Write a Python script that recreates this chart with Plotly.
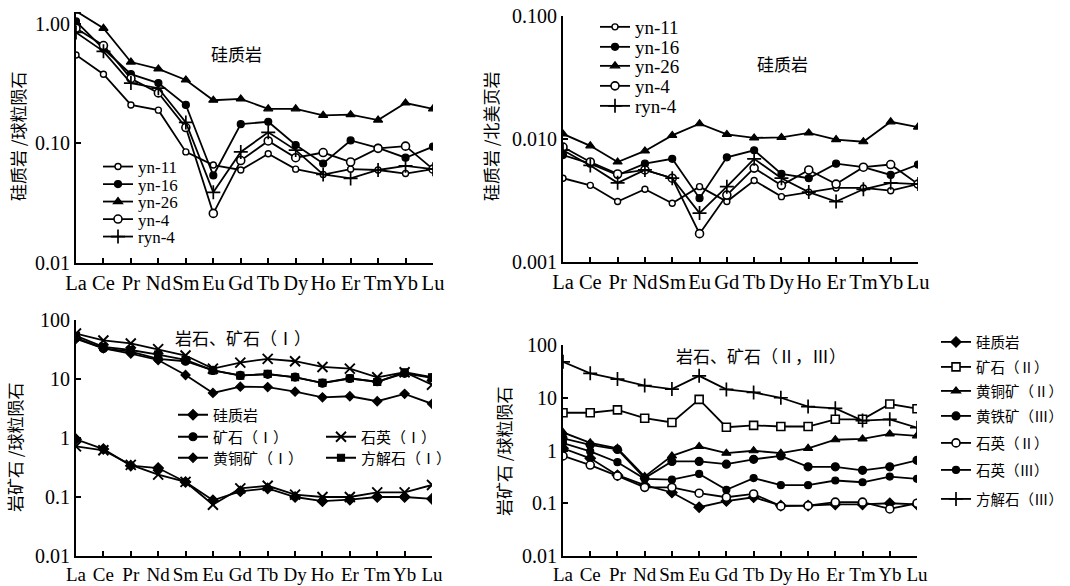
import plotly.graph_objects as go

W, H = 1070, 586

REE = ["La", "Ce", "Pr", "Nd", "Sm", "Eu", "Gd", "Tb", "Dy", "Ho", "Er", "Tm", "Yb", "Lu"]

# ---- Panel 1: siliceous rock / chondrite ----
p1_yn11 = [0.55, 0.38, 0.21, 0.19, 0.085, 0.066, 0.060, 0.082, 0.061, 0.055, 0.061, 0.060, 0.056, 0.061]
p1_yn16 = [1.05, 0.62, 0.38, 0.32, 0.21, 0.054, 0.145, 0.152, 0.097, 0.068, 0.106, 0.092, 0.076, 0.094]
p1_yn26 = [1.28, 0.92, 0.48, 0.42, 0.34, 0.23, 0.236, 0.195, 0.195, 0.172, 0.174, 0.157, 0.218, 0.195]
p1_yn4 = [0.92, 0.66, 0.35, 0.265, 0.136, 0.026, 0.072, 0.105, 0.076, 0.084, 0.070, 0.091, 0.095, 0.061]
p1_ryn4 = [0.85, 0.59, 0.32, 0.29, 0.15, 0.039, 0.085, 0.124, 0.088, 0.055, 0.051, 0.060, 0.065, 0.061]

# ---- Panel 2: siliceous rock / NASC ----
p2_yn11 = [0.0048, 0.0042, 0.0031, 0.0039, 0.0030, 0.0041, 0.0031, 0.0046, 0.0034, 0.0037, 0.0040, 0.0040, 0.0038, 0.0043]
p2_yn16 = [0.0074, 0.0063, 0.0051, 0.0063, 0.0069, 0.0033, 0.0071, 0.0081, 0.0052, 0.0048, 0.0063, 0.0059, 0.0051, 0.0062]
p2_yn26 = [0.0110, 0.0088, 0.0065, 0.0080, 0.0107, 0.0133, 0.0109, 0.0102, 0.0103, 0.0112, 0.0099, 0.0095, 0.0138, 0.0125]
p2_yn4 = [0.0086, 0.0065, 0.0052, 0.0056, 0.0048, 0.0017, 0.0035, 0.0058, 0.0042, 0.0056, 0.0043, 0.0059, 0.0062, 0.0043]
p2_ryn4 = [0.0081, 0.0061, 0.0044, 0.0056, 0.0048, 0.0025, 0.0041, 0.0069, 0.0048, 0.0037, 0.0031, 0.0039, 0.0044, 0.0043]

# ---- Panel 3: rock & ore (I) / chondrite ----
p3_silic = [0.95, 0.65, 0.34, 0.31, 0.18, 0.088, 0.125, 0.14, 0.10, 0.085, 0.09, 0.10, 0.10, 0.093]
p3_silic_b = [0.72, 0.62, 0.35, 0.24, 0.18, 0.074, 0.14, 0.155, 0.11, 0.10, 0.10, 0.12, 0.12, 0.16]
p3_ore = [50, 33, 29, 22, 20, 14, 11.5, 12, 10.8, 8.5, 10.2, 9, 12.5, 10.5]
p3_quartz = [59, 45, 40, 32, 25, 15, 19, 22, 20, 16, 15, 10.7, 13, 8]
p3_chalco = [48, 33, 27, 21, 11.7, 5.8, 7.4, 7.3, 6.1, 4.9, 5.1, 4.2, 5.6, 3.8]
p3_calcite = [54, 35, 31, 26, 21, 14, 11.4, 12.2, 10.7, 8.6, 10.3, 8.9, 13, 10.7]

# ---- Panel 4: rock & ore (II, III) / chondrite ----
p4_silic = [1.1, 0.71, 0.34, 0.22, 0.16, 0.084, 0.11, 0.13, 0.09, 0.09, 0.095, 0.095, 0.10, 0.095]
p4_ore2 = [5.2, 5.2, 5.9, 4.1, 3.4, 9.3, 2.76, 3.0, 2.85, 2.85, 3.9, 3.9, 7.6, 6.2]
p4_chalco2 = [2.2, 1.4, 1.1, 0.32, 0.79, 1.19, 0.89, 0.99, 0.89, 1.1, 1.6, 1.66, 2.06, 1.9]
p4_pyrite3 = [1.7, 1.28, 1.05, 0.30, 0.62, 0.62, 0.55, 0.68, 0.79, 0.49, 0.49, 0.42, 0.49, 0.65]
p4_quartz2 = [0.79, 0.53, 0.33, 0.20, 0.20, 0.155, 0.13, 0.15, 0.088, 0.09, 0.105, 0.105, 0.078, 0.10]
p4_quartz3 = [1.38, 0.96, 0.60, 0.29, 0.28, 0.36, 0.18, 0.30, 0.22, 0.22, 0.27, 0.25, 0.32, 0.29]
p4_calcite3 = [48, 29, 22.6, 17, 14.6, 26, 14.4, 12.6, 10, 6.8, 6.3, 3.7, 3.9, 2.7]

SERIF = "Liberation Serif, Times New Roman, serif"
CJK = "Noto Sans CJK SC, sans-serif"
BLACK = "#000000"


def mk(symbol, size, fill=BLACK, lw=1.2):
    return dict(symbol=symbol, size=size, color=fill, line=dict(color=BLACK, width=lw))


M_SMALL_OPEN = mk("circle", 6, "white", 1.4)
M_FILLED_CIRC = mk("circle", 7)
M_TRI = mk("triangle-up", 8)
M_BIG_OPEN = mk("circle", 8, "white", 1.6)
M_PLUS = mk("cross-thin", 10, BLACK, 1.7)
M_X = mk("x-thin", 10, BLACK, 1.9)
M_DIAM = mk("diamond", 8)
M_SQ = mk("square", 7)
M_SQ_OPEN = mk("square", 8, "white", 1.6)

fig = go.Figure()
legend_count = [0]
legend_layouts = {}


def legend_id():
    legend_count[0] += 1
    return "legend" if legend_count[0] == 1 else f"legend{legend_count[0]}"


def add(y, name, marker, xa, ya, leg_xy=None, font=None, dash="solid"):
    if leg_xy is not None:
        lid = legend_id()
        legend_layouts[lid] = dict(
            x=leg_xy[0] / W, y=1 - leg_xy[1] / H, xanchor="left", yanchor="middle",
            bgcolor="rgba(0,0,0,0)", borderwidth=0, font=font, itemwidth=30,
            tracegroupgap=0,
        )
        show = True
    else:
        lid = "legend"
        show = False
    fig.add_trace(go.Scatter(
        x=REE, y=y, name=name, mode="lines+markers",
        line=dict(color=BLACK, width=1.8, dash=dash), marker=marker,
        xaxis=xa, yaxis=ya, legend=lid, showlegend=show,
    ))


F_LEG_P1 = dict(family=SERIF, size=17, color=BLACK)
F_LEG_P2 = dict(family=SERIF, size=19, color=BLACK)
F_LEG_CJK = dict(family=CJK, size=15, color=BLACK)
F_LEG_CJK4 = dict(family=CJK, size=14.5, color=BLACK)

# Panel 1
p1_rows = [167, 184.5, 202, 219.5, 237]
add(p1_yn11, "yn-11", M_SMALL_OPEN, "x", "y", (98, p1_rows[0]), F_LEG_P1)
add(p1_yn16, "yn-16", M_FILLED_CIRC, "x", "y", (98, p1_rows[1]), F_LEG_P1)
add(p1_yn26, "yn-26", M_TRI, "x", "y", (98, p1_rows[2]), F_LEG_P1)
add(p1_yn4, "yn-4", M_BIG_OPEN, "x", "y", (98, p1_rows[3]), F_LEG_P1)
add(p1_ryn4, "ryn-4", M_PLUS, "x", "y", (98, p1_rows[4]), F_LEG_P1)

# Panel 2
p2_rows = [27, 47, 66, 86, 106]
add(p2_yn11, "yn-11", M_SMALL_OPEN, "x2", "y2", (595, p2_rows[0]), F_LEG_P2)
add(p2_yn16, "yn-16", M_FILLED_CIRC, "x2", "y2", (595, p2_rows[1]), F_LEG_P2)
add(p2_yn26, "yn-26", M_TRI, "x2", "y2", (595, p2_rows[2]), F_LEG_P2)
add(p2_yn4, "yn-4", M_BIG_OPEN, "x2", "y2", (595, p2_rows[3]), F_LEG_P2)
add(p2_ryn4, "ryn-4", M_PLUS, "x2", "y2", (595, p2_rows[4]), F_LEG_P2)

# Panel 3
add(p3_silic, "硅质岩", M_DIAM, "x3", "y3", (173, 415), F_LEG_CJK)
add(p3_ore, "矿石（Ⅰ）", mk("circle", 8), "x3", "y3", (173, 437), F_LEG_CJK)
add(p3_quartz, "石英（Ⅰ）", M_X, "x3", "y3", (321, 437), F_LEG_CJK)
add(p3_chalco, "黄铜矿（Ⅰ）", mk("diamond", 7), "x3", "y3", (173, 458), F_LEG_CJK)
add(p3_calcite, "方解石（Ⅰ）", M_SQ, "x3", "y3", (321, 458), F_LEG_CJK)
add(p3_silic_b, "硅质岩 b", M_X, "x3", "y3", None)

# Panel 4
p4_rows = [342, 367, 391, 416, 443, 470, 499]
add(p4_silic, "硅质岩", M_DIAM, "x4", "y4", (936, p4_rows[0]), F_LEG_CJK4)
add(p4_ore2, "矿石（Ⅱ）", M_SQ_OPEN, "x4", "y4", (936, p4_rows[1]), F_LEG_CJK4)
add(p4_chalco2, "黄铜矿（Ⅱ）", M_TRI, "x4", "y4", (936, p4_rows[2]), F_LEG_CJK4)
add(p4_pyrite3, "黄铁矿（Ⅲ）", mk("circle", 8), "x4", "y4", (936, p4_rows[3]), F_LEG_CJK4)
add(p4_quartz2, "石英（Ⅱ）", M_BIG_OPEN, "x4", "y4", (936, p4_rows[4]), F_LEG_CJK4)
add(p4_quartz3, "石英（Ⅲ）", mk("circle", 7), "x4", "y4", (936, p4_rows[5]), F_LEG_CJK4)
add(p4_calcite3, "方解石（Ⅲ）", M_PLUS, "x4", "y4", (936, p4_rows[6]), F_LEG_CJK4)


def xaxis(x0, x1, anchor, fsize):
    return dict(
        domain=[x0 / W, x1 / W], anchor=anchor, type="category",
        categoryorder="array", categoryarray=REE, range=[0, 13],
        showline=True, linecolor=BLACK, linewidth=1.8, mirror=False,
        ticks="inside", ticklen=5, tickwidth=1.5, tickcolor=BLACK,
        tickangle=0, showgrid=False, zeroline=False, automargin=False,
        tickfont=dict(family=SERIF, size=fsize, color=BLACK),
    )


def yaxis(ytop, ybot, rng, tickvals, ticktext, anchor):
    return dict(
        domain=[1 - ybot / H, 1 - ytop / H], anchor=anchor, type="log",
        range=rng, tickvals=tickvals, ticktext=ticktext,
        showline=True, linecolor=BLACK, linewidth=1.8,
        ticks="inside", ticklen=5, tickwidth=1.5, tickcolor=BLACK,
        showgrid=False, zeroline=False, automargin=False,
        tickfont=dict(family=SERIF, size=20, color=BLACK),
    )


layout = dict(
    width=W, height=H,
    margin=dict(l=0, r=0, t=0, b=0, autoexpand=False),
    paper_bgcolor="white", plot_bgcolor="white",
    xaxis=xaxis(76, 433, "y", 20.5),
    yaxis=yaxis(12, 263, [-2, 0.1], [0.01, 0.1, 1], ["0.01", "0.10", "1.00"], "x"),
    xaxis2=xaxis(563, 918, "y2", 20.5),
    yaxis2=yaxis(16, 262, [-3, -1], [0.001, 0.01, 0.1], ["0.001", "0.010", "0.100"], "x2"),
    xaxis3=xaxis(76, 432, "y3", 19),
    yaxis3=yaxis(320, 556, [-2, 2], [0.01, 0.1, 1, 10, 100], ["0.01", "0.1", "1", "10", "100"], "x3"),
    xaxis4=xaxis(563, 917, "y4", 19),
    yaxis4=yaxis(345, 556, [-2, 2], [0.01, 0.1, 1, 10, 100], ["0.01", "0.1", "1", "10", "100"], "x4"),
)
layout.update(legend_layouts)


def ann(text, x, y, size, angle=0):
    return dict(text=text, x=x / W, y=1 - y / H, xref="paper", yref="paper",
                showarrow=False, textangle=angle, xanchor="center", yanchor="middle",
                font=dict(family=CJK, size=size, color=BLACK))


layout["annotations"] = [
    ann("硅质岩", 236, 53, 17),
    ann("硅质岩", 782, 63, 17),
    ann("岩石、矿石（Ⅰ）", 243, 337, 17),
    ann("岩石、矿石（Ⅱ，Ⅲ）", 761, 355, 17),
    ann("硅质岩 /球粒陨石", 17, 137, 17, -90),
    ann("硅质岩 /北美页岩", 490, 137, 17, -90),
    ann("岩矿石 /球粒陨石", 14, 448, 17, -90),
    ann("岩矿石 /球粒陨石", 503, 452, 17, -90),
]

fig.update_layout(**layout)
fig.write_html(
    "out.html",
    config={"displayModeBar": False},
    post_script="document.body.style.margin='0px';document.body.style.overflow='hidden';",
)
